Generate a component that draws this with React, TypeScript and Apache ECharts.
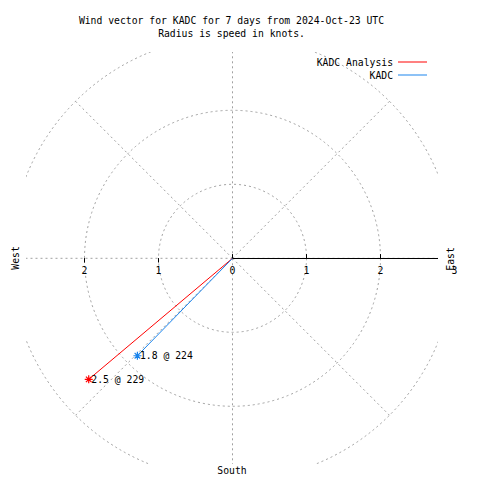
import { useEffect, useRef } from 'react';
import * as echarts from 'echarts';

const titleLines = ['Wind vector for KADC for 7 days from 2024-Oct-23 UTC', 'Radius is speed in knots.'];
const stationNames = ['KADC Analysis', 'KADC'];
// plotted vector end points (speed in knots, direction in degrees)
const speedsKnots = [2.54, 1.84];
const directionsDeg = [229.9, 224.3];
// annotation texts printed next to each vector end
const pointLabels = ['2.5 @ 229', '1.8 @ 224'];
const eastTickValues = [0, 1, 2];
const eastLabelValues = [0, 1, 2, 3];
const westTickValues = [1, 2];
const westLabelValues = [1, 2];
const radiusMax = 3;
const compassLabels = ['West', 'East', 'South'];

const lineColors = ['#ff0000', '#1a84ec'];
const CX = 232.5;
const CY = 258.3;
const R = 222;
const CLIP = { x0: 26, x1: 438, y0: 52, y1: 464 };
const FONT_FAMILY = '"DejaVu Sans Mono", "Liberation Mono", monospace';
const FS = 9.75;
const FONT = `${FS}px ${FONT_FAMILY}`;
const GRID = '#a0a0a0';
const ASTERISK = 'path://M4 0L4 8M0 4L8 4M1.2 1.2L6.8 6.8M1.2 6.8L6.8 1.2';

function textEl(text: string, x: number, y: number, rotation = 0) {
  return {
    type: 'text',
    x,
    y,
    rotation,
    z: 30,
    style: {
      text,
      font: FONT,
      fill: '#000',
      align: 'center',
      verticalAlign: 'middle',
      textAlign: 'center',
      textVerticalAlign: 'middle',
    },
  };
}

function maskRect(x: number, y: number, width: number, height: number) {
  return { type: 'rect', z: 10, silent: true, shape: { x, y, width, height }, style: { fill: '#ffffff' } };
}

export default function App() {
  const ref = useRef<HTMLDivElement>(null);
  useEffect(() => {
    if (!ref.current) return;
    const chart = echarts.init(ref.current, undefined, { renderer: 'svg' });
    const polarBase = { center: [CX, CY], radius: R };
    const hiddenAngle = (i: number, start: number) => ({
      polarIndex: i,
      type: 'value',
      min: 0,
      max: 360,
      startAngle: start,
      clockwise: false,
      show: false,
    });
    const radiusBase = (i: number) => ({
      polarIndex: i,
      type: 'value',
      min: 0,
      max: radiusMax,
      interval: 1,
      axisLine: { show: false },
      axisTick: { show: false },
      axisLabel: { show: false },
      splitLine: { show: false },
      silent: true,
    });
    const labelStyle = { color: '#000', fontFamily: FONT_FAMILY, fontSize: FS };
    const option = {
      animation: false,
      polar: [polarBase, polarBase, polarBase, polarBase, polarBase],
      angleAxis: [
        {
          polarIndex: 0,
          type: 'value',
          min: 0,
          max: 360,
          interval: 45,
          startAngle: 90,
          clockwise: true,
          axisLine: { show: false },
          axisTick: { show: false },
          axisLabel: { show: false },
          splitLine: { show: true, lineStyle: { color: GRID, type: [2, 3], width: 1 } },
          z: 0,
        },
        hiddenAngle(1, 0),
        hiddenAngle(2, 0),
        hiddenAngle(3, 180),
        hiddenAngle(4, 180),
      ],
      radiusAxis: [
        {
          ...radiusBase(0),
          splitLine: { show: true, lineStyle: { color: GRID, type: [2, 3], width: 1 } },
          z: 0,
        },
        {
          ...radiusBase(1),
          axisLine: { show: true, lineStyle: { color: '#000', width: 1 } },
          axisTick: { show: true, length: 4, customValues: eastTickValues, lineStyle: { color: '#000' } },
          z: 1,
        },
        {
          ...radiusBase(2),
          axisTick: { show: true, inside: true, length: 4, customValues: eastTickValues, lineStyle: { color: '#000' } },
          axisLabel: {
            show: true,
            customValues: eastLabelValues,
            margin: -12,
            verticalAlign: 'middle',
            align: 'center',
            ...labelStyle,
          },
          z: 20,
        },
        {
          ...radiusBase(3),
          axisTick: { show: true, length: 4, customValues: westTickValues, lineStyle: { color: '#000' } },
          axisLabel: {
            show: true,
            customValues: westLabelValues,
            margin: 12,
            verticalAlign: 'middle',
            align: 'center',
            ...labelStyle,
          },
          z: 1,
        },
        {
          ...radiusBase(4),
          axisTick: { show: true, inside: true, length: 4, customValues: westTickValues, lineStyle: { color: '#000' } },
          z: 1,
        },
      ],
      legend: {
        show: true,
        orient: 'vertical',
        right: 48,
        top: 50.5,
        align: 'right',
        icon: 'rect',
        itemWidth: 29,
        itemHeight: 1,
        itemGap: 0,
        selectedMode: false,
        z: 20,
        itemStyle: { borderWidth: 0 },
        textStyle: { ...labelStyle, lineHeight: 13 },
        data: stationNames,
      },
      series: stationNames.map((name, i) => ({
        type: 'line',
        name,
        coordinateSystem: 'polar',
        polarIndex: 0,
        color: lineColors[i],
        z: 3,
        silent: true,
        symbol: ASTERISK,
        symbolSize: 8,
        showSymbol: true,
        lineStyle: { color: lineColors[i], width: 1 },
        itemStyle: { color: lineColors[i], borderColor: lineColors[i], borderWidth: 1.2 },
        emphasis: { disabled: true },
        data: [
          { value: [0, directionsDeg[i]], symbol: 'none', label: { show: false } },
          {
            value: [speedsKnots[i], directionsDeg[i]],
            label: {
              show: true,
              position: 'right',
              distance: -2,
              formatter: pointLabels[i],
              ...labelStyle,
            },
          },
        ],
      })),
      graphic: [
        maskRect(0, 0, 480, CLIP.y0),
        maskRect(0, CLIP.y1, 480, 480 - CLIP.y1),
        maskRect(0, CLIP.y0, CLIP.x0, CLIP.y1 - CLIP.y0),
        maskRect(CLIP.x1, CLIP.y0, 480 - CLIP.x1, CLIP.y1 - CLIP.y0),
        textEl(titleLines[0], 231.5, 20),
        textEl(titleLines[1], 231.5, 33),
        textEl(compassLabels[0], 15, 258, Math.PI / 2),
        textEl(compassLabels[1], 450, 259, Math.PI / 2),
        textEl(compassLabels[2], 232, 470),
      ],
    };
    chart.setOption(option as any);
    return () => chart.dispose();
  }, []);
  return <div ref={ref} style={{ position: 'fixed', left: 0, top: 0, width: 480, height: 480, background: '#fff' }} />;
}
